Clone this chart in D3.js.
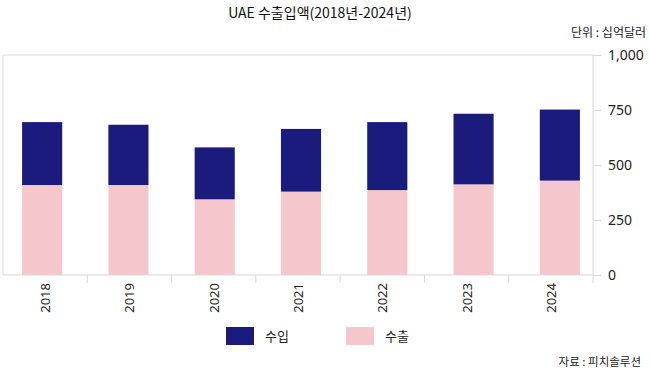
<!DOCTYPE html>
<html><head><meta charset="utf-8">
<script src="https://cdn.jsdelivr.net/npm/d3@7"></script>
<style>
body{margin:0;background:#fff;}
svg{display:block;font-family:"Noto Sans CJK KR","Noto Sans",sans-serif;}
</style></head>
<body><svg id="c" width="650" height="382"></svg>
<script>
const years = ["2018","2019","2020","2021","2022","2023","2024"];
const exports_ = [409, 409, 344, 379, 386, 412, 429];
const imports_ = [286, 274, 236, 285, 309, 321, 323];
const yTicks = [0, 250, 500, 750, 1000];
const seriesNames = ["수입", "수출"];
const colors = {"수입": "#1b1b7d", "수출": "#f5c6cc"};

(function(){
const svg = d3.select("#c");
const pL = 3, pR = 593, pT = 55, pB = 275;

const x = d3.scaleBand().domain(years).range([pL, pR]).padding(0);
const xBar = d3.scaleBand().domain(years).range([-1, 603]).paddingInner(0.535).paddingOuter(0.2675);
const y = d3.scaleLinear().domain([0, 1000]).range([pB, pT]);

// frame
svg.append("line").attr("x1", pL).attr("x2", pR).attr("y1", y(1000)).attr("y2", y(1000)).attr("stroke", "#dcdcdc");
svg.append("line").attr("x1", pL).attr("x2", pL).attr("y1", pT).attr("y2", pB).attr("stroke", "#dcdcdc");

// bars
const rows = years.map((yr, i) => ({year: yr, exp: exports_[i], imp: imports_[i]}));
const g = svg.append("g");
g.selectAll("rect.exp").data(rows).join("rect").attr("class", "exp")
  .attr("x", d => xBar(d.year)).attr("width", xBar.bandwidth())
  .attr("y", d => y(d.exp)).attr("height", d => y(0) - y(d.exp))
  .attr("fill", colors["수출"]);
g.selectAll("rect.imp").data(rows).join("rect").attr("class", "imp")
  .attr("x", d => xBar(d.year)).attr("width", xBar.bandwidth())
  .attr("y", d => y(d.exp + d.imp)).attr("height", d => y(d.exp) - y(d.exp + d.imp))
  .attr("fill", colors["수입"]);

// right axis
const yAxis = d3.axisRight(y).tickValues(yTicks).tickSize(8).tickPadding(7).tickFormat(d3.format(","));
const ya = svg.append("g").attr("transform", `translate(${pR},0)`).call(yAxis);
ya.select(".domain").remove();
ya.selectAll(".tick line").attr("stroke", "#d8d8d8");
ya.selectAll(".tick text").attr("fill", "#222").style("font-size", "14px")
  .style("font-family", "'Noto Sans','Noto Sans CJK KR',sans-serif");
svg.append("line").attr("x1", pR).attr("x2", pR).attr("y1", pT).attr("y2", pB + 8).attr("stroke", "#d8d8d8");

// bottom axis
svg.append("line").attr("x1", pL).attr("x2", pR).attr("y1", pB).attr("y2", pB).attr("stroke", "#d8d8d8");
const bx = svg.append("g");
bx.selectAll("line.sep").data(years.slice(1)).join("line").attr("class", "sep")
  .attr("x1", d => x(d)).attr("x2", d => x(d)).attr("y1", pB).attr("y2", pB + 8).attr("stroke", "#d8d8d8");
bx.selectAll("text").data(years).join("text")
  .attr("transform", d => `translate(${x(d) + x.bandwidth() / 2 + 5},${pB + 8}) rotate(-90)`)
  .attr("text-anchor", "end").attr("fill", "#222")
  .style("font-size", "13px").style("font-family", "'Noto Sans','Noto Sans CJK KR',sans-serif")
  .text(d => d);

// title, unit, source
svg.append("text").attr("x", 320).attr("y", 18).attr("text-anchor", "middle").attr("fill", "#111")
  .style("font-size", "14px").text("UAE 수출입액(2018년-2024년)");
svg.append("text").attr("x", 646).attr("y", 37).attr("text-anchor", "end").attr("fill", "#222")
  .style("font-size", "12px").text("단위 : 십억달러");
svg.append("text").attr("x", 641).attr("y", 366).attr("text-anchor", "end").attr("fill", "#222")
  .style("font-size", "11.5px").text("자료 : 피치솔루션");

// legend
const legX = d3.scalePoint().domain(seriesNames).range([226, 346]);
const lg = svg.selectAll("g.leg").data(seriesNames).join("g").attr("class", "leg")
  .attr("transform", d => `translate(${legX(d)},327)`);
lg.append("rect").attr("width", 28).attr("height", 18).attr("fill", d => colors[d]);
lg.append("text").attr("x", 39).attr("y", 14).attr("fill", "#222").style("font-size", "13px").text(d => d);
})();
</script></body></html>
